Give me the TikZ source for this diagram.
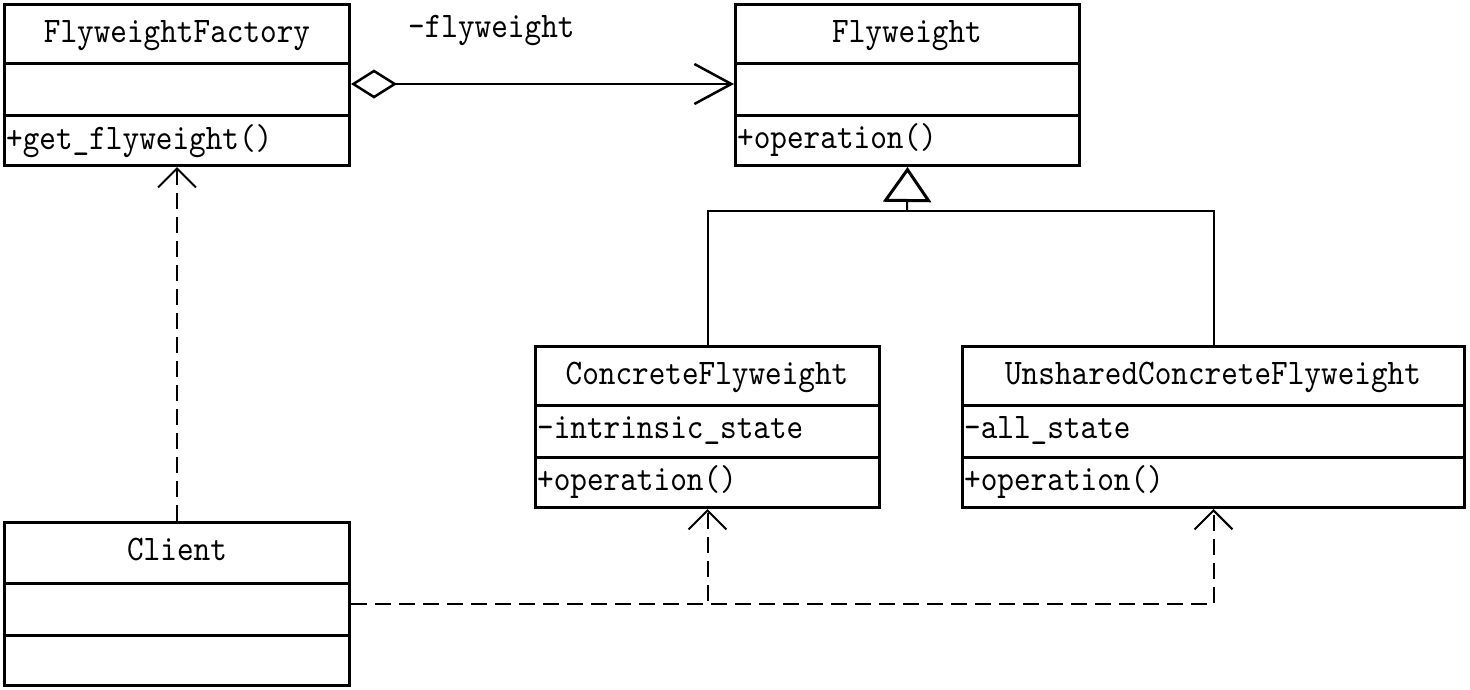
\documentclass[tikz,border=0pt]{standalone}
\usepackage{fontspec}
\newfontfamily\umlfont{lmmono10-regular.otf}[FakeStretch=0.88]
\usetikzlibrary{arrows.meta}
\begin{document}
\begin{tikzpicture}[x=1pt,y=-1pt,
  box/.style={draw, line width=3pt, anchor=north west, inner sep=0pt},
  sepline/.style={line width=3pt},
  conn/.style={line width=2pt},
  dep/.style={line width=2pt, dash pattern=on 16pt off 8pt},
  title/.style={font=\umlfont\fontsize{36}{40}\selectfont, inner sep=0pt, anchor=base},
  member/.style={font=\umlfont\fontsize{36}{40}\selectfont, inner sep=0pt, anchor=base west},
  openhead/.style={-{Straight Barb[length=19pt,width=38pt,line width=2pt]}},
  assochead/.style={{Diamond[open,length=46pt,width=29pt,line width=2.5pt,fill=white]}-{Straight Barb[length=37pt,width=40pt,line width=2.5pt]}},
  genhead/.style={-{Triangle[open,length=35pt,width=48pt,line width=3pt,fill=white]}}
]
\useasboundingbox (0,0) rectangle (1470,689);
% boxes
\node[box, minimum width=345pt, minimum height=161pt] (ff) at (3,3) {};
\node[box, minimum width=344pt, minimum height=161pt] (fw) at (734,3) {};
\node[box, minimum width=344pt, minimum height=161pt] (cf) at (534,345) {};
\node[box, minimum width=502pt, minimum height=161pt] (ucf) at (961,345) {};
\node[box, minimum width=345pt, minimum height=163pt] (cl) at (3,521) {};
% compartments
\draw[sepline] (ff.west |- 0,63) -- (ff.east |- 0,63) (ff.west |- 0,115) -- (ff.east |- 0,115);
\draw[sepline] (fw.west |- 0,63) -- (fw.east |- 0,63) (fw.west |- 0,115) -- (fw.east |- 0,115);
\draw[sepline] (cf.west |- 0,405) -- (cf.east |- 0,405) (cf.west |- 0,457) -- (cf.east |- 0,457);
\draw[sepline] (ucf.west |- 0,405) -- (ucf.east |- 0,405) (ucf.west |- 0,457) -- (ucf.east |- 0,457);
\draw[sepline] (cl.west |- 0,583) -- (cl.east |- 0,583) (cl.west |- 0,635) -- (cl.east |- 0,635);
% texts
\node[title] (ffT) at (177,42) {FlyweightFactory};
\node[member] (ffM) at (6,149) {+get\_flyweight()};
\node[title] (fwT) at (907,42) {Flyweight};
\node[member] (fwM) at (737,148) {+operation()};
\node[title] (cfT) at (707,384) {ConcreteFlyweight};
\node[member] (cfA) at (537,438) {-intrinsic\_state};
\node[member] (cfM) at (537,490) {+operation()};
\node[title] (ucfT) at (1213,384) {UnsharedConcreteFlyweight};
\node[member] (ucfA) at (964,438) {-all\_state};
\node[member] (ucfM) at (964,490) {+operation()};
\node[title] (clT) at (177,560) {Client};
\node[member] (lbl) at (408,37) {-flyweight};
% aggregation / association
\draw[conn, assochead] (ff.east |- 0,84) -- (fw.west |- 0,84);
% generalization
\coordinate (j) at (907,211);
\draw[conn] (cf.north) -- (cf.north |- j) -- (ucf.north |- j) -- (ucf.north);
\draw[conn, genhead] (j) -- (fw.south);
% dependencies
\draw[dep, openhead] (cl.north) -- (ff.south);
\draw[dep, openhead] (cl.east) -| (cf.south);
\draw[dep, openhead] (cl.east) -| (ucf.south);
\end{tikzpicture}
\end{document}
